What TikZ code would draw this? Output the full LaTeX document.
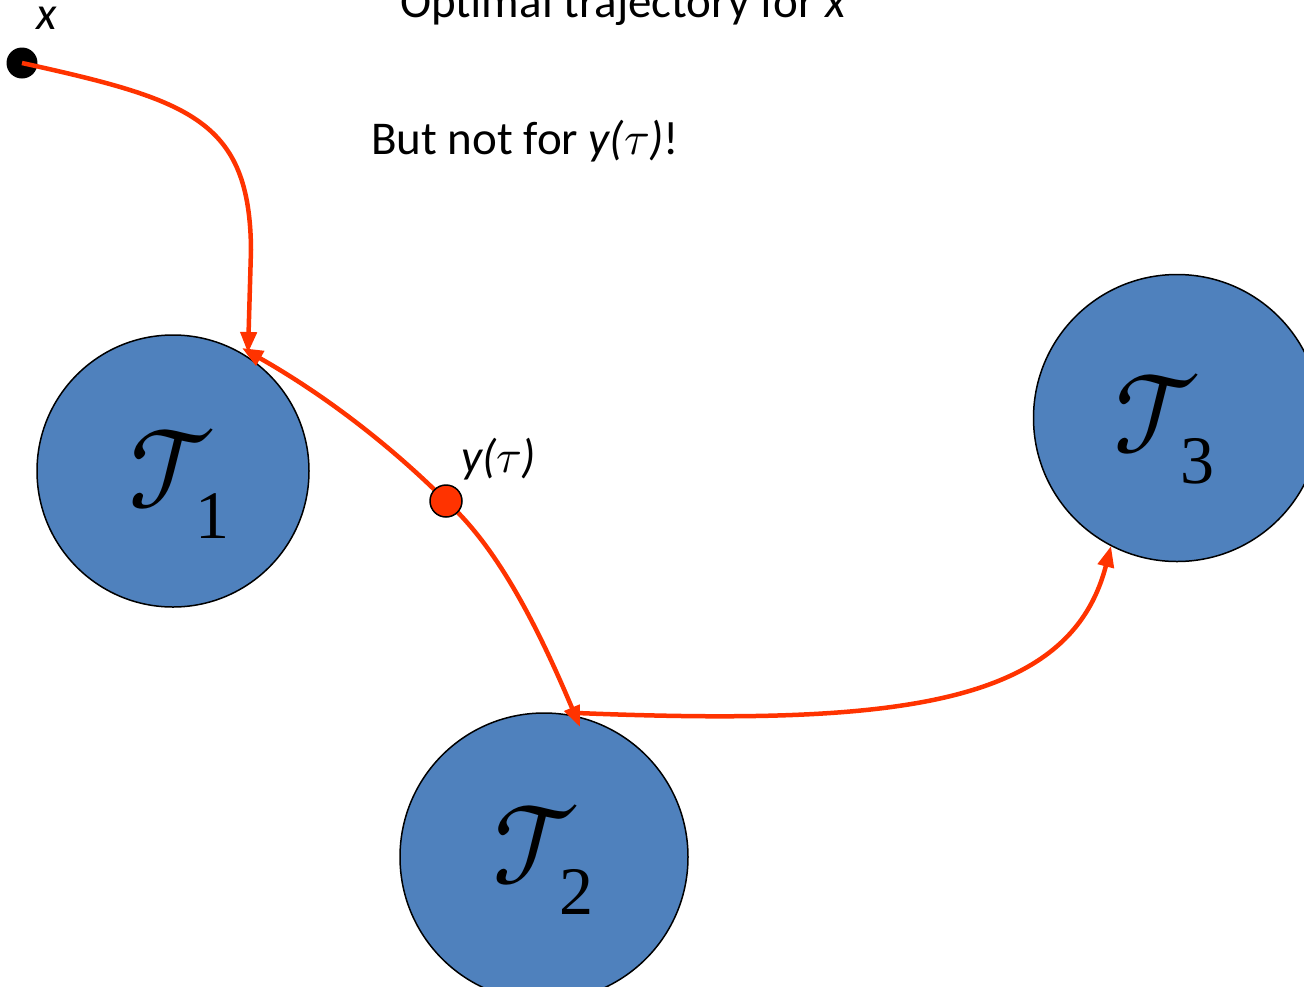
\documentclass[tikz,border=0pt]{standalone}
\usepackage{fontspec}
\setmainfont{Carlito}
\newfontfamily\digitfont{Liberation Serif}
\usepackage{unicode-math}
\setmathfont{Latin Modern Math}
\usetikzlibrary{arrows.meta}
\definecolor{tblue}{HTML}{4F81BD}
\definecolor{tred}{HTML}{FF3300}
\newcommand{\tname}[1]{$\mathcal{T}$\kern-22pt\raisebox{-30pt}{\digitfont\fontsize{68}{72}\selectfont #1}}
\tikzset{
  target/.style={circle,draw=black,line width=1.5pt,fill=tblue,inner sep=0pt},
  traj/.style={draw=tred,line width=4.5pt,-{Triangle[length=21pt,width=16pt]}},
  lab/.style={font=\fontsize{47}{54}\selectfont,anchor=base west,inner sep=0pt},
  tlab/.style={font=\fontsize{115}{120}\selectfont,inner sep=0pt,anchor=base west}
}
\begin{document}
\begin{tikzpicture}[x=1pt,y=-1pt]
\useasboundingbox (0,0) rectangle (1304,986);
\begin{scope}
\clip (0,0) rectangle (1304,986);
\node[target,minimum size=272pt] (T1) at (173,471) {};
\node[target,minimum size=288pt] (T2) at (544,857) {};
\node[target,minimum size=287pt] (T3) at (1177,418) {};
\node[tlab] (l1) at (128,508) {\tname{1}};
\node[tlab] (l2) at (492,884) {\tname{2}};
\node[tlab] (l3) at (1113,453) {\tname{3}};
\node[lab] (title) at (400,17) {Optimal trajectory for \textit{x}};
\end{scope}
\node[lab] (but) at (371,154) {But not for \textit{y(}$\tau$\textit{)}!};
\node[circle,fill=black,minimum size=31pt,inner sep=0pt] (x) at (22,63) {};
\node[lab,font=\fontsize{47}{54}\selectfont\itshape] (xl) at (36,29) {x};
\coordinate (a1) at (248,353);
\coordinate (a2) at (242,348);
\coordinate (a3) at (580,727);
\coordinate (s4) at (577,713);
\coordinate (a4) at (1111,546);
\draw[traj] (x.center) .. controls (190,100) and (250,120) .. (251,250) -- (a1);
\coordinate (yc) at (446,501);
\draw[traj] (yc) .. controls (395,450) and (330,398) .. (a2);
\draw[traj] (yc) .. controls (495,545) and (535,620) .. (a3);
\draw[traj] (s4) .. controls (900,726) and (1070,705) .. (a4);
\node[circle,draw=black,line width=1.5pt,fill=tred,minimum size=32pt,inner sep=0pt] (y) at (yc) {};
\node[lab] (yl) at (461,472) {\textit{y(}$\tau$\textit{)}};
\end{tikzpicture}
\end{document}
